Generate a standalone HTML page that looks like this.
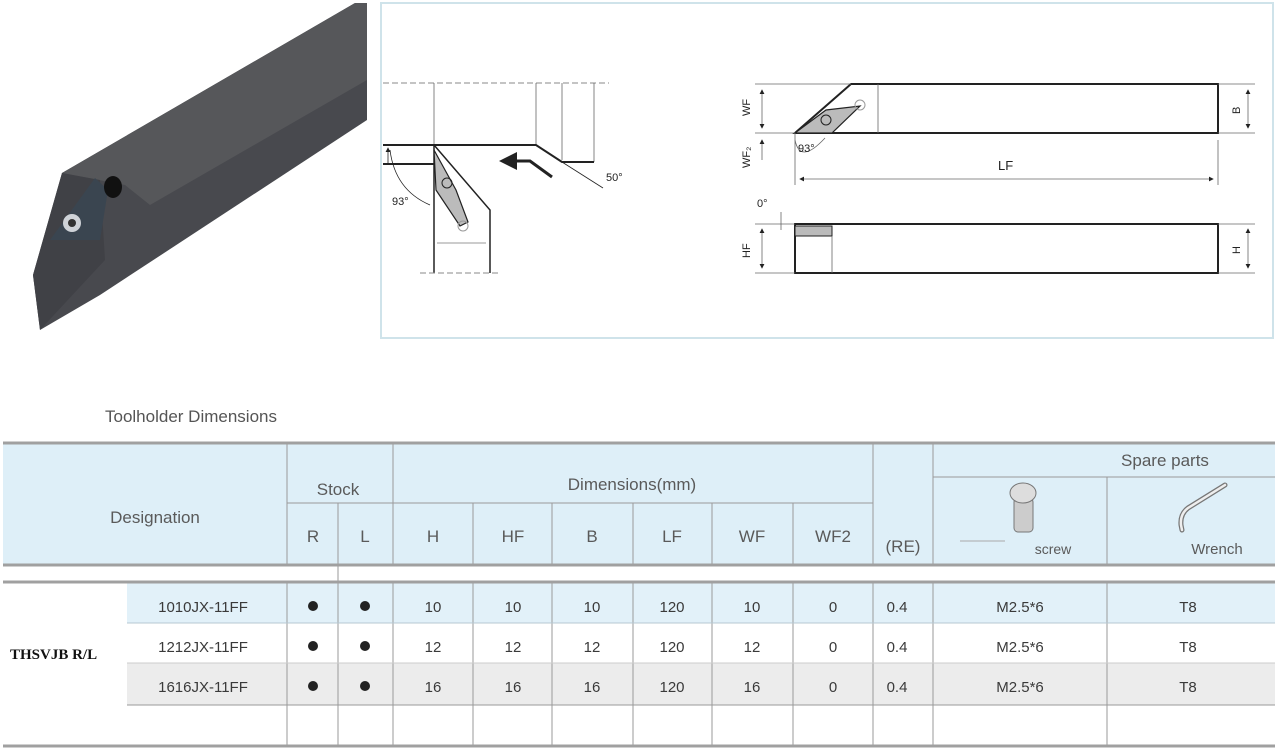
<!DOCTYPE html>
<html><head><meta charset="utf-8"><style>
html,body{margin:0;padding:0;background:#fff;}
svg{display:block;}
text{font-family:"Liberation Sans",sans-serif;}
text.ser{font-family:"Liberation Serif",serif;}
</style></head><body>
<svg width="1275" height="752" viewBox="0 0 1275 752" xmlns="http://www.w3.org/2000/svg">
<defs><marker id="a" markerWidth="6" markerHeight="6" refX="5" refY="3" orient="auto-start-reverse"><path d="M0,0 L6,3 L0,6z" fill="#222"/></marker></defs>
<!-- tool photo -->
<polygon points="33,275 62,173 355,3 367,3 367,120 100,295 40,330" fill="#48494e"/>
<polygon points="62,173 355,3 367,3 367,80 150,205 125,185" fill="#56575a"/>
<polygon points="33,275 62,173 100,180 105,260 40,330" fill="#404146"/>
<polygon points="50,240 95,178 108,190 100,240" fill="#3a4550"/>
<circle cx="72" cy="223" r="9" fill="#cfd3d8"/><circle cx="72" cy="223" r="4" fill="#333"/>
<ellipse cx="113" cy="187" rx="9" ry="11" fill="#111"/>
<!-- diagram box -->
<rect x="381" y="3" width="892" height="335" fill="#fff" stroke="#cfe3ea" stroke-width="2"/>
<g stroke="#222" fill="none">
<line x1="383" y1="83" x2="609" y2="83" stroke-dasharray="6,3" stroke-width="1" stroke="#888"/>
<g stroke-width="0.8" stroke="#666"><line x1="434" y1="83" x2="434" y2="145"/><line x1="536" y1="83" x2="536" y2="145"/><line x1="562" y1="83" x2="562" y2="160"/><line x1="594" y1="83" x2="594" y2="162"/></g>
<polyline points="383,145 434,145 536,145 562,162 594,162" stroke-width="2"/>
<line x1="383" y1="164" x2="434" y2="164" stroke-width="2"/>
<line x1="562" y1="162" x2="603" y2="188" stroke-width="0.8"/>
<line x1="434" y1="145" x2="434" y2="273" stroke-width="1.5"/>
<polyline points="434,145 490,210 490,273" stroke-width="1.5"/>
<polygon points="434,150 456,190 468,222 460,226 436,190" fill="#bbb" stroke-width="1.2"/>
<circle cx="447" cy="183" r="5" stroke-width="1"/><circle cx="463" cy="226" r="5" stroke="#999"/>
<line x1="437" y1="243" x2="486" y2="243" stroke="#999"/>
<line x1="420" y1="273" x2="500" y2="273" stroke="#888" stroke-dasharray="6,3"/>
<path d="M390,150 Q395,190 430,205" stroke-width="0.8"/>
<line x1="388" y1="165" x2="388" y2="148" marker-end="url(#a)" stroke-width="0.8"/>
<polyline points="552,177 530,161 502,161" stroke-width="3" marker-end="url(#a)"/>
<!-- top view -->
<polygon points="795,133 851,84 1218,84 1218,133" stroke-width="2"/>
<polygon points="795,133 826,110 860,106 832,133" fill="#bbb" stroke-width="1.2"/>
<circle cx="826" cy="120" r="5"/><circle cx="860" cy="105" r="5" stroke="#999"/>
<g stroke="#666" stroke-width="0.8">
<line x1="878" y1="84" x2="878" y2="133"/>
<line x1="755" y1="84" x2="851" y2="84"/><line x1="755" y1="133" x2="795" y2="133"/>
<line x1="1218" y1="84" x2="1255" y2="84"/><line x1="1218" y1="133" x2="1255" y2="133"/>
<line x1="795" y1="133" x2="795" y2="185"/><line x1="1218" y1="140" x2="1218" y2="185"/>
<line x1="762" y1="90" x2="762" y2="128" marker-start="url(#a)" marker-end="url(#a)"/>
<line x1="762" y1="140" x2="762" y2="160" marker-start="url(#a)"/>
<line x1="1248" y1="90" x2="1248" y2="128" marker-start="url(#a)" marker-end="url(#a)"/>
<line x1="800" y1="179" x2="1213" y2="179" marker-start="url(#a)" marker-end="url(#a)"/>
<path d="M795,140 Q800,165 825,138"/>
</g>
<!-- side view -->
<rect x="795" y="224" width="423" height="49" stroke-width="2"/>
<rect x="795" y="226" width="37" height="10" fill="#bbb" stroke-width="1"/>
<g stroke="#666" stroke-width="0.8">
<line x1="832" y1="236" x2="832" y2="273"/>
<line x1="755" y1="224" x2="795" y2="224"/><line x1="755" y1="273" x2="795" y2="273"/>
<line x1="1218" y1="224" x2="1255" y2="224"/><line x1="1218" y1="273" x2="1255" y2="273"/>
<line x1="762" y1="229" x2="762" y2="268" marker-start="url(#a)" marker-end="url(#a)"/>
<line x1="1248" y1="229" x2="1248" y2="268" marker-start="url(#a)" marker-end="url(#a)"/>
<line x1="781" y1="212" x2="781" y2="230"/>
</g>
</g>
<g font-size="11" fill="#222">
<text x="392" y="205">93°</text><text x="606" y="181">50°</text>
<text x="798" y="152">93°</text><text x="998" y="170" font-size="13">LF</text>
<text x="757" y="207">0°</text>
<text transform="translate(750,116) rotate(-90)">WF</text>
<text transform="translate(750,168) rotate(-90)">WF₂</text>
<text transform="translate(750,258) rotate(-90)">HF</text>
<text transform="translate(1240,114) rotate(-90)">B</text>
<text transform="translate(1240,254) rotate(-90)">H</text>
</g>
<!-- table -->
<text x="105" y="422" font-size="17" fill="#555">Toolholder Dimensions</text>
<rect x="3" y="443" width="1272" height="122" fill="#deeff8"/>
<rect x="127" y="582" width="1148" height="41" fill="#e2f1f9"/>
<rect x="127" y="663" width="1148" height="42" fill="#ececec"/>
<g stroke="#9a9a9a" stroke-width="1">
<line x1="287" y1="443" x2="287" y2="565"/><line x1="393" y1="443" x2="393" y2="565"/>
<line x1="873" y1="443" x2="873" y2="565"/><line x1="933" y1="443" x2="933" y2="565"/>
<line x1="338" y1="503" x2="338" y2="746"/><line x1="1107" y1="477" x2="1107" y2="565"/>
<line x1="473" y1="503" x2="473" y2="565"/><line x1="552" y1="503" x2="552" y2="565"/>
<line x1="633" y1="503" x2="633" y2="565"/><line x1="712" y1="503" x2="712" y2="565"/>
<line x1="793" y1="503" x2="793" y2="565"/>
<line x1="287" y1="582" x2="287" y2="746"/><line x1="393" y1="582" x2="393" y2="746"/>
<line x1="873" y1="582" x2="873" y2="746"/><line x1="933" y1="582" x2="933" y2="746"/>
<line x1="1107" y1="582" x2="1107" y2="746"/>
<line x1="473" y1="582" x2="473" y2="746"/><line x1="552" y1="582" x2="552" y2="746"/>
<line x1="633" y1="582" x2="633" y2="746"/><line x1="712" y1="582" x2="712" y2="746"/>
<line x1="793" y1="582" x2="793" y2="746"/>
<line x1="287" y1="503" x2="873" y2="503"/><line x1="933" y1="477" x2="1275" y2="477"/>
<line x1="127" y1="623" x2="1275" y2="623" stroke="#b7c8d2"/><line x1="127" y1="663" x2="1275" y2="663" stroke="#ccc"/><line x1="127" y1="705" x2="1275" y2="705"/>
</g>
<g stroke="#a0a0a0" stroke-width="3">
<line x1="3" y1="443" x2="1275" y2="443"/><line x1="3" y1="565" x2="1275" y2="565"/>
<line x1="3" y1="582" x2="1275" y2="582"/><line x1="3" y1="746" x2="1275" y2="746"/>
</g>
<g font-size="17" fill="#5a5a5a" text-anchor="middle">
<text x="155" y="523">Designation</text><text x="338" y="495">Stock</text><text x="632" y="490">Dimensions(mm)</text>
<text x="1165" y="466">Spare parts</text>
<text x="313" y="542">R</text><text x="365" y="542">L</text><text x="433" y="542">H</text><text x="513" y="542">HF</text>
<text x="592" y="542">B</text><text x="672" y="542">LF</text><text x="752" y="542">WF</text><text x="833" y="542">WF2</text>
<text x="903" y="552">(RE)</text>
<text x="1053" y="554" font-size="14">screw</text><text x="1217" y="554" font-size="15">Wrench</text>
</g>
<rect x="1014" y="498" width="19" height="34" rx="4" fill="#ccc" stroke="#777"/>
<ellipse cx="1023" cy="493" rx="13" ry="10" fill="#ddd" stroke="#777"/>
<line x1="960" y1="541" x2="1005" y2="541" stroke="#aaa"/>
<path d="M1225,485 L1188,508 Q1180,514 1181,525 L1182,530" stroke="#777" stroke-width="5" fill="none" stroke-linecap="round"/>
<path d="M1225,485 L1188,508 Q1180,514 1181,525 L1182,530" stroke="#eee" stroke-width="2.5" fill="none" stroke-linecap="round"/>
<g font-size="15" fill="#3a3a3a" text-anchor="middle">
<text x="203" y="612">1010JX-11FF</text><text x="203" y="652">1212JX-11FF</text><text x="203" y="692">1616JX-11FF</text>
<text x="433" y="612">10</text><text x="513" y="612">10</text><text x="592" y="612">10</text><text x="672" y="612">120</text><text x="752" y="612">10</text><text x="833" y="612">0</text><text x="897" y="612">0.4</text><text x="1020" y="612">M2.5*6</text><text x="1188" y="612">T8</text>
<text x="433" y="652">12</text><text x="513" y="652">12</text><text x="592" y="652">12</text><text x="672" y="652">120</text><text x="752" y="652">12</text><text x="833" y="652">0</text><text x="897" y="652">0.4</text><text x="1020" y="652">M2.5*6</text><text x="1188" y="652">T8</text>
<text x="433" y="692">16</text><text x="513" y="692">16</text><text x="592" y="692">16</text><text x="672" y="692">120</text><text x="752" y="692">16</text><text x="833" y="692">0</text><text x="897" y="692">0.4</text><text x="1020" y="692">M2.5*6</text><text x="1188" y="692">T8</text>
</g>
<g fill="#222"><circle cx="313" cy="606" r="5"/><circle cx="365" cy="606" r="5"/><circle cx="313" cy="646" r="5"/><circle cx="365" cy="646" r="5"/><circle cx="313" cy="686" r="5"/><circle cx="365" cy="686" r="5"/></g>
<text class="ser" x="10" y="659" font-weight="bold" font-size="15" fill="#111">THSVJB R/L</text>
</svg>
</body></html>
